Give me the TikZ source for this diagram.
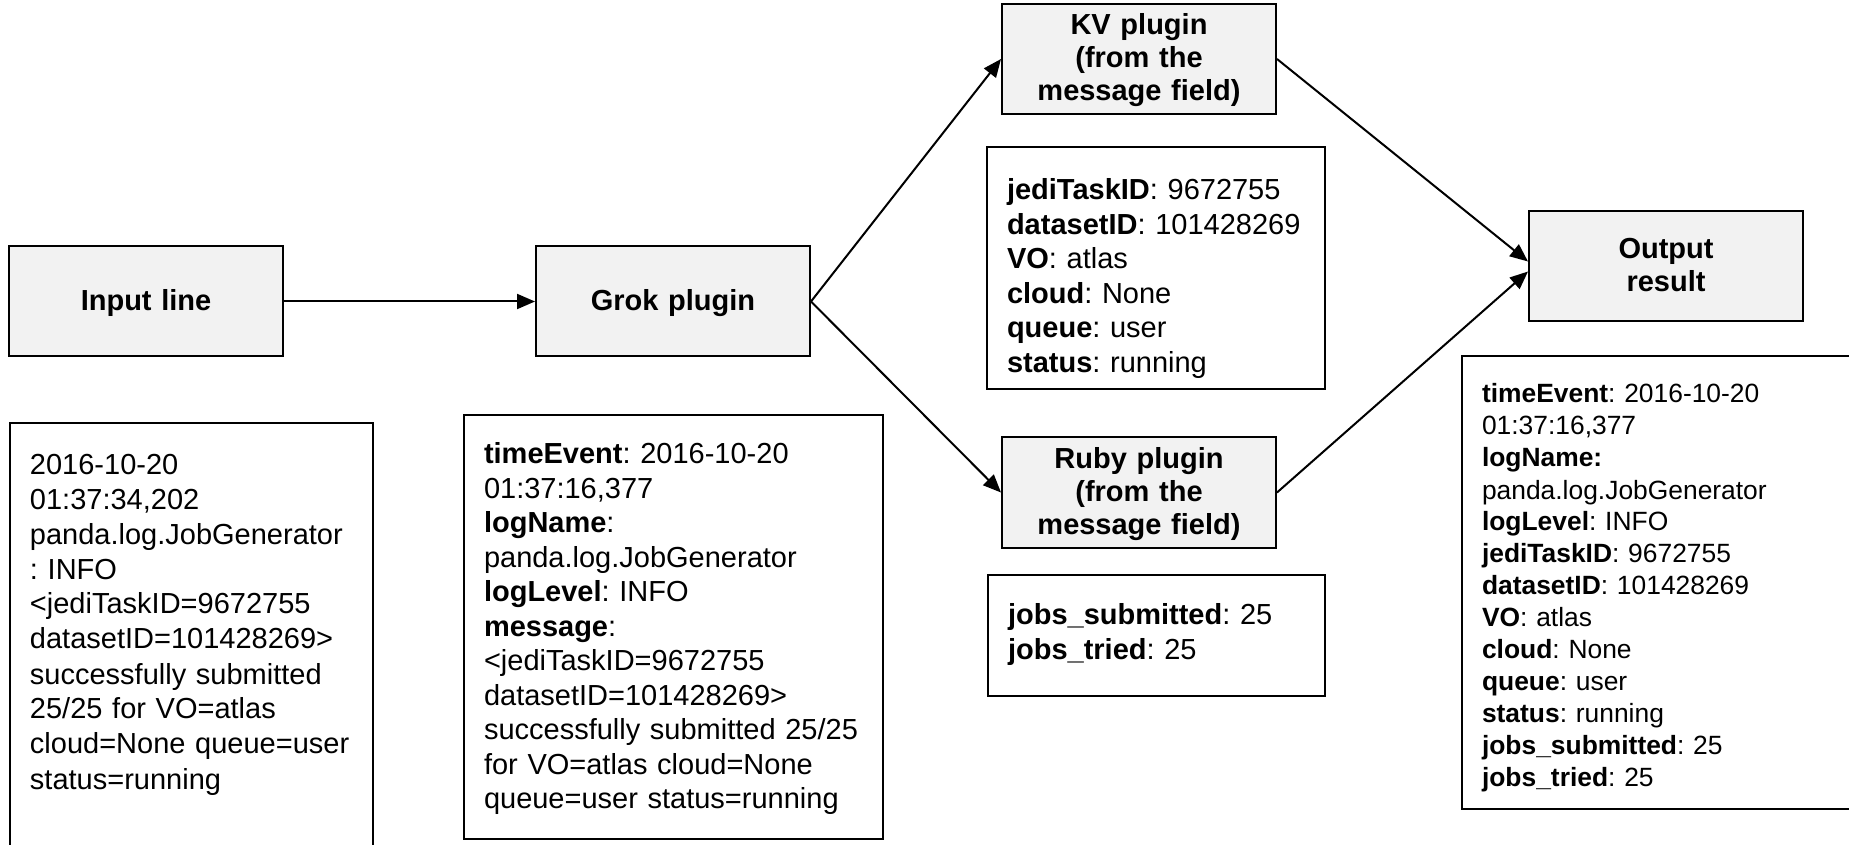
\documentclass[tikz,border=0pt]{standalone}
\usepackage{fontspec}
\setmainfont{Liberation Sans}
\usetikzlibrary{arrows.meta}
\definecolor{boxgray}{RGB}{242,242,242}
\frenchspacing

\begin{document}
\begin{tikzpicture}[-{Triangle[length=9pt,width=7.5pt]}, line width=1pt, x=0.5pt, y=-0.5pt]
\useasboundingbox (0,0) rectangle (1849,845);
\clip (0,0) rectangle (1849,845);
\tikzstyle{every node} = [rectangle, draw=black, fill=boxgray, minimum width=137pt, minimum height=55pt, text width=130pt, align=center, text height=12pt, font=\fontsize{14.5}{16.5}\selectfont\bfseries]
\node[text depth=3pt] (1) at (146,301.5) {Input line};
\node[text depth=3pt] (2) at (673,301.5) {Grok plugin};
\node[text depth=36pt] (3) at (1139,59) {KV plugin\\(from the\\message field)};
\node[text depth=36pt] (4) at (1139,492.5) {Ruby plugin\\(from the\\message field)};
\node[text depth=19.5pt] (5) at (1666,266.5) {Output\\result};
\tikzstyle{every node} = [rectangle, draw=black, fill=white, anchor=north west, align=left, inner xsep=10pt, inner ysep=0pt, font=\fontsize{14.5}{17.5}\selectfont]
\node[text width=161.5pt, text height=25.5pt, text depth=203.5pt] (6) at (9,422) {2016-10-20\\01:37:34,202\\panda.log.JobGenerator\\: INFO\\<jediTaskID=9672755\\datasetID=101428269>\\successfully submitted\\25/25 for VO=atlas\\cloud=None queue=user\\status=running};
\node[text width=189.5pt, text height=24.5pt, text depth=187.5pt, font=\fontsize{14.5}{17.25}\selectfont] (7) at (463,414) {\textbf{timeEvent}: 2016-10-20\\01:37:16,377\\\textbf{logName}:\\panda.log.JobGenerator\\\textbf{logLevel}: INFO\\\textbf{message}:\\<jediTaskID=9672755\\datasetID=101428269>\\successfully submitted 25/25\\for VO=atlas cloud=None\\queue=user status=running};
\node[text width=149pt, text height=26.5pt, text depth=94.5pt, font=\fontsize{14.5}{17.25}\selectfont] (8) at (986,146) {\textbf{jediTaskID}: 9672755\\\textbf{datasetID}: 101428269\\\textbf{VO}: atlas\\\textbf{cloud}: None\\\textbf{queue}: user\\\textbf{status}: running};
\node[text width=148.5pt, text height=24.5pt, text depth=36pt] (9) at (987,574) {\textbf{jobs\_submitted}: 25\\\textbf{jobs\_tried}: 25};
\node[text width=200pt, text height=23.5pt, text depth=203pt, font=\fontsize{13.2}{16}\selectfont] (10) at (1461,355) {\textbf{timeEvent}: 2016-10-20\\01:37:16,377\\\textbf{logName:}\\panda.log.JobGenerator\\\textbf{logLevel}: INFO\\\textbf{jediTaskID}: 9672755\\\textbf{datasetID}: 101428269\\\textbf{VO}: atlas\\\textbf{cloud}: None\\\textbf{queue}: user\\\textbf{status}: running\\\textbf{jobs\_submitted}: 25\\\textbf{jobs\_tried}: 25};
\tikzstyle{every node} = []
\draw (1) -- (2);
\draw (2.east) -- (3.west);
\draw (2.east) -- (4.west);
\draw (3.east) -- ([yshift=2.5pt]5.west);
\draw (4.east) -- ([yshift=-2.5pt]5.west);
\end{tikzpicture}
\end{document}
